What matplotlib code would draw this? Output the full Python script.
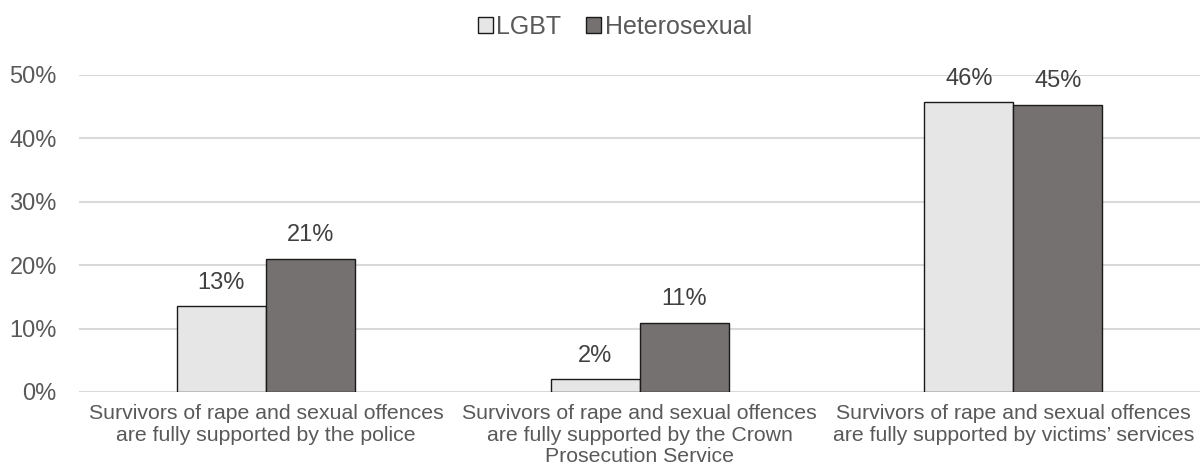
import numpy as np
import matplotlib.pyplot as plt

plt.rcParams['font.family'] = ['Liberation Sans', 'DejaVu Sans']

categories = ['Survivors of rape and sexual offences\nare fully supported by the police',
              'Survivors of rape and sexual offences\nare fully supported by the Crown\nProsecution Service',
              'Survivors of rape and sexual offences\nare fully supported by victims\u2019 services']
lgbt = [0.135, 0.02, 0.457]
hetero = [0.21, 0.109, 0.453]
lgbt_labels = ['13%', '2%', '46%']
hetero_labels = ['21%', '11%', '45%']
yticks = [0, 0.1, 0.2, 0.3, 0.4, 0.5]

grey = '#595959'
fig = plt.figure(figsize=(12.03, 4.74), dpi=100)
ax = fig.add_axes([0.0657, 0.173, 0.932, 0.669])

x = np.arange(len(categories))
w = 0.238
b1 = ax.bar(x - w/2, lgbt, w, color='#E6E6E6', edgecolor='#1a1a1a', linewidth=1, label='LGBT', zorder=3)
b2 = ax.bar(x + w/2, hetero, w, color='#767171', edgecolor='#1a1a1a', linewidth=1, label='Heterosexual', zorder=3)
ax.bar_label(b1, labels=lgbt_labels, padding=9, fontsize=17, color='#404040')
ax.bar_label(b2, labels=hetero_labels, padding=9, fontsize=17, color='#404040')

ax.set_xlim(-0.5, len(categories) - 0.5)
ax.set_ylim(0, 0.5)
ax.set_yticks(yticks)
ax.set_yticklabels([f'{int(round(t*100))}%' for t in yticks], fontsize=17, color=grey)
ax.set_xticks(x)
ax.set_xticklabels(categories, fontsize=15.3, color=grey, linespacing=1.15)
ax.tick_params(length=0)
ax.tick_params(axis='y', pad=16)
ax.tick_params(axis='x', pad=9)
ax.grid(axis='y', color='#D9D9D9', linewidth=1.5, zorder=0)
for s in ax.spines.values():
    s.set_visible(False)

ax.legend(loc='upper center', bbox_to_anchor=(0.478, 1.26), ncol=2, frameon=False,
          fontsize=18, labelcolor=grey, handlelength=0.6, handleheight=0.6,
          handletextpad=0.15, columnspacing=1.0)

fig.savefig('out.png', dpi=100)
